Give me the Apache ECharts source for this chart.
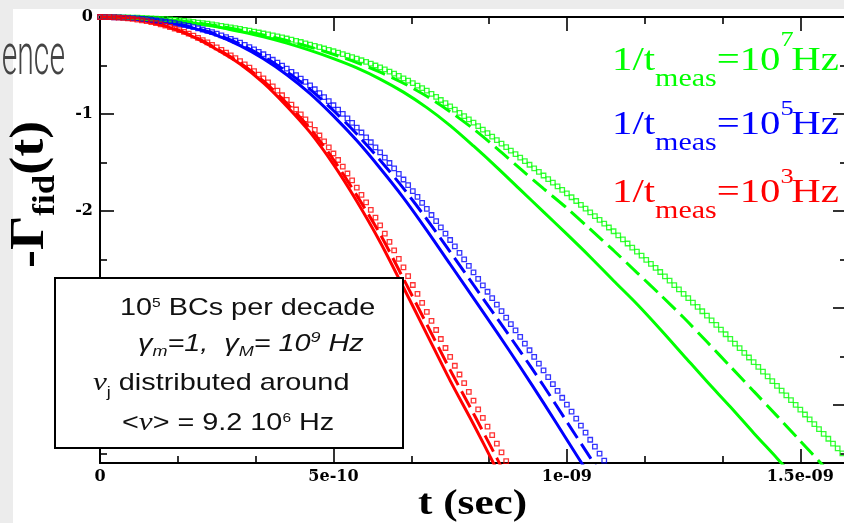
<!DOCTYPE html>
<html><head><meta charset="utf-8">
<script src="https://cdn.jsdelivr.net/npm/echarts@6/dist/echarts.min.js"></script>
<style>html,body{margin:0;padding:0;background:#ececec}#c{width:844px;height:523px}</style>
</head><body><div id="c"></div>
<script>
// time values are in units of 1e-9 s
const xTickValues = [0, 0.5, 1, 1.5];
const xTickLabels = ['0', '5e-10', '1e-09', '1.5e-09'];
const xMinorTicks = [0.16667, 0.33333, 0.66667, 0.83333, 1.16667, 1.33333];
const yTickValues = [0, -1, -2, -3, -4];
const yTickLabels = ['0', '-1', '-2', '-3', '-4'];
const yMinorTicks = [-0.5, -1.5, -2.5, -3.5, -4.5];

const legendExponents = ['7', '5', '3'];
const legendColors = ['#00ff00', '#0000ff', '#ff0000'];

const redSolid = [[0,0],[0.05,-0.01],[0.1,-0.045],[0.15,-0.11],[0.2,-0.205],[0.25,-0.335],[0.3,-0.485],[0.35,-0.68],[0.4,-0.92],[0.45,-1.19],[0.5,-1.52],[0.55,-1.9],[0.6,-2.32],[0.65,-2.79],[0.7,-3.27],[0.75,-3.75],[0.8,-4.2],[0.85,-4.67]];
const redDashed = [[0,0],[0.05,-0.01],[0.1,-0.044],[0.15,-0.107],[0.2,-0.198],[0.25,-0.325],[0.3,-0.472],[0.35,-0.66],[0.4,-0.89],[0.45,-1.15],[0.5,-1.47],[0.55,-1.84],[0.6,-2.24],[0.65,-2.7],[0.7,-3.17],[0.75,-3.64],[0.8,-4.09],[0.85,-4.55],[0.87,-4.74]];
const redSquares = [[0,0],[0.01,-0.0004],[0.02,-0.0015],[0.03,-0.003],[0.04,-0.006],[0.05,-0.009],[0.06,-0.014],[0.07,-0.02],[0.08,-0.027],[0.09,-0.035],[0.1,-0.043],[0.11,-0.053],[0.12,-0.064],[0.13,-0.076],[0.14,-0.089],[0.15,-0.103],[0.16,-0.119],[0.17,-0.136],[0.18,-0.153],[0.19,-0.172],[0.2,-0.192],[0.21,-0.215],[0.22,-0.238],[0.23,-0.262],[0.24,-0.287],[0.25,-0.313],[0.26,-0.34],[0.27,-0.367],[0.28,-0.395],[0.29,-0.425],[0.3,-0.455],[0.31,-0.489],[0.32,-0.523],[0.33,-0.558],[0.34,-0.595],[0.35,-0.633],[0.36,-0.674],[0.37,-0.716],[0.38,-0.76],[0.39,-0.807],[0.4,-0.855],[0.41,-0.904],[0.42,-0.954],[0.43,-1.004],[0.44,-1.056],[0.45,-1.108],[0.46,-1.164],[0.47,-1.222],[0.48,-1.282],[0.49,-1.344],[0.5,-1.408],[0.51,-1.475],[0.52,-1.544],[0.53,-1.614],[0.54,-1.686],[0.55,-1.759],[0.56,-1.835],[0.57,-1.912],[0.58,-1.99],[0.59,-2.07],[0.6,-2.15],[0.61,-2.235],[0.62,-2.32],[0.63,-2.406],[0.64,-2.494],[0.65,-2.583],[0.66,-2.673],[0.67,-2.764],[0.68,-2.856],[0.69,-2.949],[0.7,-3.042],[0.71,-3.135],[0.72,-3.228],[0.73,-3.321],[0.74,-3.414],[0.75,-3.506],[0.76,-3.597],[0.77,-3.687],[0.78,-3.777],[0.79,-3.867],[0.8,-3.957],[0.81,-4.046],[0.82,-4.135],[0.83,-4.224],[0.84,-4.312],[0.85,-4.4],[0.86,-4.49],[0.87,-4.58],[0.88,-4.67]];

const blueSolid = [[0,0],[0.05,-0.006],[0.1,-0.027],[0.15,-0.06],[0.2,-0.115],[0.25,-0.19],[0.3,-0.295],[0.35,-0.43],[0.4,-0.595],[0.45,-0.79],[0.5,-1.02],[0.55,-1.275],[0.6,-1.56],[0.65,-1.865],[0.7,-2.2],[0.75,-2.55],[0.8,-2.9],[0.85,-3.25],[0.9,-3.61],[0.95,-3.98],[1,-4.36],[1.05,-4.74]];
const blueDashed = [[0,0],[0.05,-0.006],[0.1,-0.026],[0.15,-0.057],[0.2,-0.11],[0.25,-0.18],[0.3,-0.28],[0.35,-0.407],[0.4,-0.563],[0.45,-0.747],[0.5,-0.964],[0.55,-1.207],[0.6,-1.477],[0.65,-1.768],[0.7,-2.086],[0.75,-2.422],[0.8,-2.764],[0.85,-3.105],[0.9,-3.448],[0.95,-3.803],[1,-4.175],[1.05,-4.545],[1.08,-4.77]];
const blueSquares = [[0,0],[0.01,-0.0002],[0.02,-0.001],[0.03,-0.0025],[0.04,-0.004],[0.05,-0.006],[0.06,-0.0085],[0.07,-0.0115],[0.08,-0.015],[0.09,-0.02],[0.1,-0.025],[0.11,-0.03],[0.12,-0.036],[0.13,-0.042],[0.14,-0.048],[0.15,-0.055],[0.16,-0.064],[0.17,-0.073],[0.18,-0.083],[0.19,-0.093],[0.2,-0.104],[0.21,-0.116],[0.22,-0.129],[0.23,-0.143],[0.24,-0.157],[0.25,-0.172],[0.26,-0.189],[0.27,-0.207],[0.28,-0.226],[0.29,-0.245],[0.3,-0.265],[0.31,-0.287],[0.32,-0.31],[0.33,-0.334],[0.34,-0.359],[0.35,-0.384],[0.36,-0.412],[0.37,-0.441],[0.38,-0.471],[0.39,-0.502],[0.4,-0.533],[0.41,-0.566],[0.42,-0.6],[0.43,-0.635],[0.44,-0.67],[0.45,-0.706],[0.46,-0.745],[0.47,-0.785],[0.48,-0.826],[0.49,-0.868],[0.5,-0.91],[0.51,-0.955],[0.52,-1.0],[0.53,-1.046],[0.54,-1.093],[0.55,-1.141],[0.56,-1.191],[0.57,-1.241],[0.58,-1.292],[0.59,-1.344],[0.6,-1.397],[0.61,-1.451],[0.62,-1.506],[0.63,-1.562],[0.64,-1.619],[0.65,-1.676],[0.66,-1.735],[0.67,-1.795],[0.68,-1.856],[0.69,-1.917],[0.7,-1.979],[0.71,-2.042],[0.72,-2.106],[0.73,-2.17],[0.74,-2.235],[0.75,-2.3],[0.76,-2.366],[0.77,-2.433],[0.78,-2.499],[0.79,-2.566],[0.8,-2.633],[0.81,-2.7],[0.82,-2.767],[0.83,-2.834],[0.84,-2.9],[0.85,-2.967],[0.86,-3.034],[0.87,-3.1],[0.88,-3.167],[0.89,-3.233],[0.9,-3.3],[0.91,-3.368],[0.92,-3.437],[0.93,-3.506],[0.94,-3.575],[0.95,-3.645],[0.96,-3.715],[0.97,-3.786],[0.98,-3.856],[0.99,-3.927],[1,-3.998],[1.01,-4.07],[1.02,-4.142],[1.03,-4.215],[1.04,-4.287],[1.05,-4.36],[1.06,-4.432],[1.07,-4.504],[1.08,-4.576],[1.09,-4.648],[1.1,-4.72]];

const greenSolid = [[0,0],[0.05,-0.003],[0.1,-0.013],[0.15,-0.032],[0.2,-0.062],[0.25,-0.1],[0.3,-0.15],[0.35,-0.205],[0.4,-0.27],[0.45,-0.345],[0.5,-0.43],[0.55,-0.525],[0.6,-0.64],[0.65,-0.775],[0.7,-0.935],[0.75,-1.12],[0.8,-1.33],[0.85,-1.55],[0.9,-1.78],[0.95,-2.01],[1,-2.24],[1.05,-2.475],[1.1,-2.72],[1.15,-2.96],[1.2,-3.22],[1.25,-3.49],[1.3,-3.76],[1.35,-4.02],[1.4,-4.29],[1.45,-4.55],[1.5,-4.82]];
const greenDashed = [[0,0],[0.05,-0.003],[0.1,-0.012],[0.15,-0.029],[0.2,-0.055],[0.25,-0.09],[0.3,-0.134],[0.35,-0.185],[0.4,-0.243],[0.45,-0.31],[0.5,-0.385],[0.55,-0.47],[0.6,-0.568],[0.65,-0.683],[0.7,-0.818],[0.75,-0.977],[0.8,-1.155],[0.85,-1.355],[0.9,-1.564],[0.95,-1.77],[1,-1.971],[1.05,-2.188],[1.1,-2.408],[1.15,-2.636],[1.2,-2.864],[1.25,-3.1],[1.3,-3.35],[1.35,-3.604],[1.4,-3.859],[1.45,-4.114],[1.5,-4.373],[1.55,-4.633],[1.56,-4.686]];
const greenSquares = [[0,0],[0.01,-0.0001],[0.02,-0.0004],[0.03,-0.001],[0.04,-0.002],[0.05,-0.003],[0.06,-0.004],[0.07,-0.0055],[0.08,-0.007],[0.09,-0.009],[0.1,-0.011],[0.11,-0.0135],[0.12,-0.016],[0.13,-0.019],[0.14,-0.0225],[0.15,-0.026],[0.16,-0.03],[0.17,-0.035],[0.18,-0.04],[0.19,-0.0455],[0.2,-0.051],[0.21,-0.057],[0.22,-0.063],[0.23,-0.069],[0.24,-0.076],[0.25,-0.083],[0.26,-0.091],[0.27,-0.099],[0.28,-0.107],[0.29,-0.115],[0.3,-0.123],[0.31,-0.132],[0.32,-0.141],[0.33,-0.151],[0.34,-0.16],[0.35,-0.17],[0.36,-0.18],[0.37,-0.19],[0.38,-0.2],[0.39,-0.211],[0.4,-0.222],[0.41,-0.234],[0.42,-0.246],[0.43,-0.258],[0.44,-0.271],[0.45,-0.284],[0.46,-0.297],[0.47,-0.311],[0.48,-0.325],[0.49,-0.339],[0.5,-0.353],[0.51,-0.368],[0.52,-0.383],[0.53,-0.398],[0.54,-0.414],[0.55,-0.43],[0.56,-0.446],[0.57,-0.463],[0.58,-0.481],[0.59,-0.5],[0.6,-0.52],[0.61,-0.541],[0.62,-0.563],[0.63,-0.585],[0.64,-0.608],[0.65,-0.632],[0.66,-0.656],[0.67,-0.681],[0.68,-0.707],[0.69,-0.733],[0.7,-0.76],[0.71,-0.792],[0.72,-0.824],[0.73,-0.856],[0.74,-0.889],[0.75,-0.922],[0.76,-0.955],[0.77,-0.988],[0.78,-1.022],[0.79,-1.056],[0.8,-1.09],[0.81,-1.126],[0.82,-1.162],[0.83,-1.198],[0.84,-1.234],[0.85,-1.27],[0.86,-1.306],[0.87,-1.342],[0.88,-1.378],[0.89,-1.414],[0.9,-1.45],[0.91,-1.487],[0.92,-1.524],[0.93,-1.561],[0.94,-1.598],[0.95,-1.635],[0.96,-1.672],[0.97,-1.709],[0.98,-1.746],[0.99,-1.783],[1,-1.82],[1.01,-1.859],[1.02,-1.898],[1.03,-1.937],[1.04,-1.976],[1.05,-2.015],[1.06,-2.054],[1.07,-2.093],[1.08,-2.132],[1.09,-2.171],[1.1,-2.21],[1.11,-2.252],[1.12,-2.294],[1.13,-2.336],[1.14,-2.378],[1.15,-2.42],[1.16,-2.462],[1.17,-2.504],[1.18,-2.546],[1.19,-2.588],[1.2,-2.63],[1.21,-2.675],[1.22,-2.72],[1.23,-2.765],[1.24,-2.81],[1.25,-2.855],[1.26,-2.9],[1.27,-2.945],[1.28,-2.99],[1.29,-3.035],[1.3,-3.08],[1.31,-3.128],[1.32,-3.176],[1.33,-3.224],[1.34,-3.272],[1.35,-3.32],[1.36,-3.368],[1.37,-3.416],[1.38,-3.464],[1.39,-3.512],[1.4,-3.56],[1.41,-3.609],[1.42,-3.658],[1.43,-3.707],[1.44,-3.756],[1.45,-3.805],[1.46,-3.854],[1.47,-3.903],[1.48,-3.952],[1.49,-4.001],[1.5,-4.05],[1.51,-4.1],[1.52,-4.15],[1.53,-4.2],[1.54,-4.25],[1.55,-4.3],[1.56,-4.35],[1.57,-4.4],[1.58,-4.45],[1.59,-4.5],[1.6,-4.55]];

const SERIF = "'Liberation Serif', 'Times New Roman', serif";
const SANS = "'Liberation Sans', Arial, sans-serif";
const TICKFONT = "'DejaVu Serif', serif";

const mctx = document.createElement('canvas').getContext('2d');
function fontStr(p) {
  return (p.style || 'normal') + ' ' + (p.weight || 'normal') + ' ' + p.size + 'px ' + p.family;
}
function run(x, y, parts, o) {
  o = o || {};
  let cx = 0;
  const kids = [];
  parts.forEach(function (p) {
    const f = fontStr(p);
    mctx.font = f;
    cx += (p.dx || 0);
    kids.push({
      type: 'text', x: cx, y: (p.dy || 0) - 0.34 * p.size, z: o.z || 100, silent: true,
      style: { text: p.t, font: f, fill: o.color || '#000',
        textAlign: 'left', align: 'left', textVerticalAlign: 'middle', verticalAlign: 'middle' }
    });
    cx += mctx.measureText(p.t).width;
  });
  return { type: 'group', x: x, y: y, scaleX: o.sx || 1, scaleY: o.sy || 1, rotation: o.rot || 0, z: o.z || 100, children: kids };
}

function findLabel(vals, labels, v) {
  for (let i = 0; i < vals.length; i++) if (Math.abs(vals[i] - v) < 1e-6) return labels[i];
  return '';
}

function xAx(pos, ticks, len, line, labels) {
  return {
    type: 'value', min: 0, max: 1.6, position: pos, gridIndex: 0,
    axisLine: { show: line, onZero: false, lineStyle: { color: '#000', width: 2 } },
    axisTick: { show: true, inside: true, length: len, customValues: ticks, lineStyle: { color: '#000', width: 1.6 } },
    axisLabel: labels ? {
      show: true, customValues: ticks, margin: 6, color: '#000',
      fontFamily: TICKFONT, fontWeight: 'bold', fontSize: 16,
      formatter: function (v) { return findLabel(xTickValues, xTickLabels, v); }
    } : { show: false },
    splitLine: { show: false }, minorTick: { show: false }, minorSplitLine: { show: false }
  };
}
function yAx(pos, ticks, len, line, labels) {
  return {
    type: 'value', min: -4.6, max: 0, position: pos, gridIndex: 0,
    axisLine: { show: line, onZero: false, lineStyle: { color: '#000', width: 2 } },
    axisTick: { show: true, inside: true, length: len, customValues: ticks, lineStyle: { color: '#000', width: 1.6 } },
    axisLabel: labels ? {
      show: true, customValues: ticks, margin: 7, color: '#000',
      fontFamily: TICKFONT, fontWeight: 'bold', fontSize: 16,
      formatter: function (v) { return findLabel(yTickValues, yTickLabels, v); }
    } : { show: false },
    splitLine: { show: false }, minorTick: { show: false }, minorSplitLine: { show: false }
  };
}

function lineS(data, color, dashed) {
  return { type: 'line', data: data, xAxisIndex: 0, yAxisIndex: 0, symbol: 'none', showSymbol: false,
    smooth: 0.3, silent: true, z: 3,
    lineStyle: { color: color, width: 3, type: dashed ? [18, 7] : 'solid', cap: 'butt' } };
}
function sqS(data, color) {
  return { type: 'scatter', data: data, xAxisIndex: 0, yAxisIndex: 0, symbol: 'rect', symbolSize: 4.5,
    silent: true, z: 4,
    itemStyle: { color: 'rgba(255,255,255,0)', borderColor: color, borderWidth: 1.3 } };
}

const graphics = [
  { type: 'rect', z: -100, silent: true, shape: { x: 13, y: 9, width: 831, height: 514 }, style: { fill: '#ffffff' } },
  { type: 'text', z: -50, silent: true, x: 65, y: 79 - 0.34 * 58, scaleX: 0.52,
    style: { text: 'ence', font: '300 58px Roboto', fill: '#444444', textAlign: 'right', align: 'right',
      textVerticalAlign: 'middle', verticalAlign: 'middle' } },
  // axis titles
  run(47, 268, [
    { t: '-', size: 40, weight: 'bold', family: SERIF },
    { t: 'Γ', size: 40, weight: 'bold', family: SERIF },
    { t: 'fid', size: 26, weight: 'bold', family: SERIF, dy: 8 },
    { t: '(t)', size: 40, weight: 'bold', family: SERIF }
  ], { rot: Math.PI / 2, sx: 1.35, sy: 1.2 }),
  run(418, 517, [{ t: 't (sec)', size: 36, weight: 'bold', family: SERIF }], { sx: 1.2 }),
  // annotation box
  { type: 'rect', z: 90, silent: true, shape: { x: 55, y: 278, width: 348, height: 170 },
    style: { fill: '#ffffff', stroke: '#000000', lineWidth: 2 } },
  run(120, 317, [
    { t: '10', size: 24, family: SANS },
    { t: '5', size: 13, family: SANS, dy: -9 },
    { t: ' BCs per decade', size: 24, family: SANS }
  ], { sx: 1.2, color: '#111' }),
  run(138, 352, [
    { t: 'γ', size: 24, style: 'italic', family: SANS },
    { t: 'm', size: 15, style: 'italic', family: SANS, dy: 5 },
    { t: '=1,  ', size: 24, style: 'italic', family: SANS },
    { t: 'γ', size: 24, style: 'italic', family: SANS },
    { t: 'M', size: 15, style: 'italic', family: SANS, dy: 5 },
    { t: '= 10', size: 24, style: 'italic', family: SANS },
    { t: '9', size: 15, style: 'italic', family: SANS, dy: -9 },
    { t: ' Hz', size: 24, style: 'italic', family: SANS }
  ], { sx: 1.2, color: '#111' }),
  run(93, 392, [
    { t: 'ν', size: 26, style: 'italic', family: SERIF },
    { t: 'j', size: 15, family: SANS, dy: 6 },
    { t: ' distributed around', size: 24, family: SANS }
  ], { sx: 1.2, color: '#111' }),
  run(122, 432, [
    { t: '<', size: 24, family: SANS },
    { t: 'ν', size: 26, style: 'italic', family: SERIF },
    { t: '> = 9.2 10', size: 24, family: SANS },
    { t: '6', size: 13, family: SANS, dy: -9 },
    { t: ' Hz', size: 24, family: SANS }
  ], { sx: 1.2, color: '#111' })
];
const legendBaselines = [73, 137, 205];
const legendSupDy = [-25, -20, -20];
legendExponents.forEach(function (e, i) {
  graphics.push(run(612, legendBaselines[i], [
    { t: '1/t', size: 34, family: SERIF },
    { t: 'meas', size: 25, family: SERIF, dy: 15 },
    { t: '=10', size: 34, family: SERIF },
    { t: e, size: 22, family: SERIF, dy: legendSupDy[i] },
    { t: 'Hz', size: 34, family: SERIF, dx: -2 }
  ], { sx: 1.2, color: legendColors[i] }));
});

const chart = echarts.init(document.getElementById('c'), null, { renderer: 'canvas' });
chart.setOption({
  animation: false,
  backgroundColor: '#ececec',
  grid: { left: 100, top: 17, right: -3, bottom: 60, containLabel: false, outerBoundsMode: 'none' },
  xAxis: [
    xAx('bottom', xTickValues, 14, true, true),
    xAx('bottom', xMinorTicks, 7, false, false),
    xAx('top', xTickValues, 14, true, false),
    xAx('top', xMinorTicks, 7, false, false)
  ],
  yAxis: [
    yAx('left', yTickValues, 14, true, true),
    yAx('left', yMinorTicks, 7, false, false),
    yAx('right', yTickValues, 14, true, false),
    yAx('right', yMinorTicks, 7, false, false)
  ],
  series: [
    lineS(greenSolid, legendColors[0], false),
    lineS(greenDashed, legendColors[0], true),
    sqS(greenSquares, legendColors[0]),
    lineS(blueSolid, legendColors[1], false),
    lineS(blueDashed, legendColors[1], true),
    sqS(blueSquares, legendColors[1]),
    lineS(redSolid, legendColors[2], false),
    lineS(redDashed, legendColors[2], true),
    sqS(redSquares, legendColors[2])
  ],
  graphic: { elements: graphics }
});
</script>
</body></html>
